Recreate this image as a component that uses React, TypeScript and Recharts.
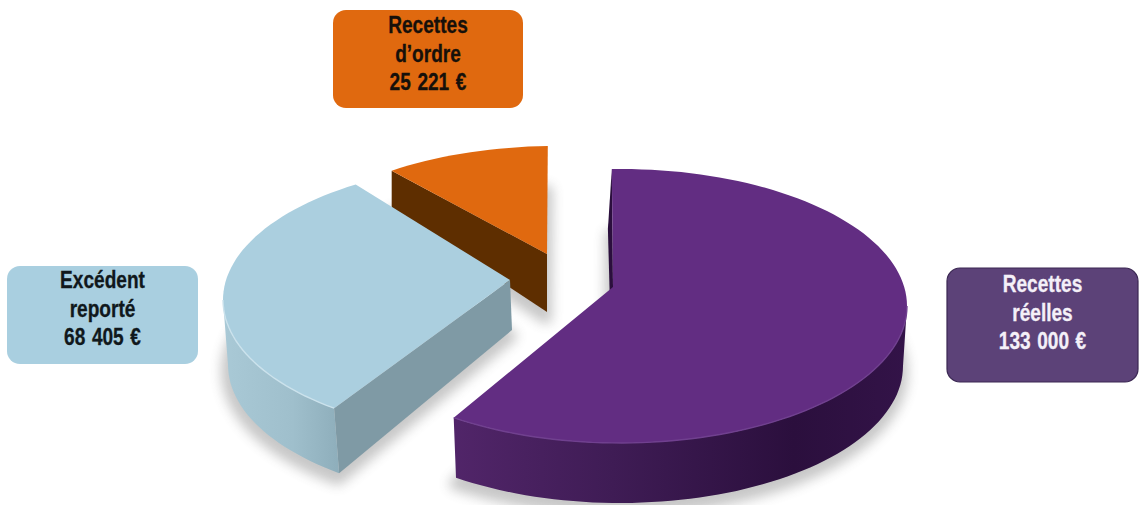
import { Pie, PieChart } from 'recharts'

const categories = ['Recettes d’ordre', 'Recettes réelles', 'Excédent reporté']
const amounts = [25221, 133000, 68405]

const tableData = categories.map((name, i) => ({ name, value: amounts[i] }))
const total = amounts.reduce((a, b) => a + b, 0)

// purple slice's cut edge sits just past twelve o'clock, the orange one leads into it
const FIRST_EDGE = 92
const START_ANGLE = FIRST_EDGE + (amounts[0] / total) * 360

const RX = 287
const RY = 137
const TILT = 0.1

// one entry per slice: ellipse centre, apex, and how the bottom rim is offset
const sliceStyles = [
  {
    cx: 556, cy: 283, apexX: 547, apexY: 254, apexDrop: 58, apexDropX: 0,
    dropX: 0, dropY: 39, bottomRx: RX, faceDx: 0, turn: 0,
    top: '#E0690F', wall: '#5E2E00', face: '#5E2E00', rim: '#E0690F',
  },
  {
    cx: 620, cy: 306, apexX: 613, apexY: 287, apexDrop: 55, apexDropX: -2,
    dropX: 0, dropY: 60, bottomRx: RX - 4, faceDx: -4, turn: 0,
    top: '#622D82', wall: 'url(#purpleWall)', face: '#2B0F3D', rim: '#70408F',
  },
  {
    cx: 510, cy: 300, apexX: 510, apexY: 280, apexDrop: 50, apexDropX: 2,
    dropX: 5, dropY: 65, bottomRx: RX, faceDx: 0, turn: -2.4,
    top: '#ABCFDF', wall: 'url(#blueWall)', face: '#7F9AA5', rim: '#CBE2EC',
  },
]

const boxStyles = [
  { x: 333, y: 10, width: 190, height: 98, baseline: 33, fill: '#E0690F', stroke: 'none', ink: '#16100A' },
  { x: 947, y: 268, width: 191, height: 114, baseline: 292, fill: '#5C4278', stroke: '#3A2752', ink: '#F4F0F8' },
  { x: 7, y: 266, width: 191, height: 98, baseline: 288, fill: '#A9CFE0', stroke: 'none', ink: '#10181C' },
]

const LINE_GAP = 28.6

const rad = (deg: number) => (deg * Math.PI) / 180

// pulls an angle towards the far side so the disc reads as seen in perspective
function warp(deg: number) {
  const c = Math.cos(rad(deg))
  const s = Math.sin(rad(deg))
  const top = Math.atan2(s + TILT, c)
  const bottom = Math.atan2(-TILT * c, 1 + TILT * s)
  let delta = (top - bottom) * (180 / Math.PI) - deg
  delta = ((delta + 180) % 360 + 360) % 360 - 180
  return deg + delta
}

type Slice = (typeof sliceStyles)[number]

const topPoint = (s: Slice, deg: number): [number, number] => [
  s.cx + RX * Math.cos(rad(deg)),
  s.cy - RY * Math.sin(rad(deg)),
]

const bottomPoint = (s: Slice, deg: number): [number, number] => [
  s.cx + s.dropX + s.bottomRx * Math.cos(rad(deg)),
  s.cy + s.dropY - RY * Math.sin(rad(deg)),
]

function arc(point: (deg: number) => [number, number], from: number, to: number) {
  const steps = Math.max(2, Math.ceil(Math.abs(to - from) / 2))
  const out: [number, number][] = []
  for (let i = 0; i <= steps; i++) out.push(point(from + ((to - from) * i) / steps))
  return out
}

const toPath = (pts: [number, number][], close = true) =>
  pts.map((p, i) => `${i ? 'L' : 'M'}${p[0].toFixed(1)} ${p[1].toFixed(1)}`).join('') + (close ? 'Z' : '')

// part of the sweep that runs along the near half of the disc
function frontRange(from: number, to: number) {
  for (const k of [-1, 0, 1]) {
    const hi = Math.min(from, 360 * k)
    const lo = Math.max(to, 360 * k - 180)
    if (hi > lo) return [hi, lo]
  }
  return null
}

const sliceIndex = (props: any) => props.index ?? tableData.findIndex((d) => d.name === props.name)

function ShadowSlice(props: any) {
  const s = sliceStyles[sliceIndex(props)]
  const a0 = warp(props.startAngle) + s.turn
  const a1 = warp(props.endAngle) + s.turn
  const outline = [
    [s.apexX + s.apexDropX, s.apexY + s.apexDrop] as [number, number],
    ...arc((d) => bottomPoint(s, d), a0, a1),
  ]
  return (
    <g opacity={0.32} filter="url(#softShadow)">
      <path
        d={toPath(outline)}
        transform="translate(-1 6)"
        fill="#555"
        stroke="#555"
        strokeWidth={12}
        strokeLinejoin="round"
      />
    </g>
  )
}

function SolidSlice(props: any) {
  const s = sliceStyles[sliceIndex(props)]
  const a0 = warp(props.startAngle) + s.turn
  const a1 = warp(props.endAngle) + s.turn
  const top = topPoint(s, a0)
  const low = bottomPoint(s, a0)
  const front = frontRange(a0, a1)
  return (
    <g>
      {/* cut side along the leading edge */}
      <path
        d={toPath([
          [s.apexX, s.apexY],
          top,
          [low[0] + s.faceDx, low[1]],
          [s.apexX + s.apexDropX, s.apexY + s.apexDrop],
        ])}
        fill={s.face}
      />
      {front && (
        <path
          d={toPath([
            ...arc((d) => topPoint(s, d), front[0], front[1]),
            ...arc((d) => bottomPoint(s, d), front[1], front[0]),
          ])}
          fill={s.wall}
        />
      )}
      <path d={toPath([[s.apexX, s.apexY], ...arc((d) => topPoint(s, d), a0, a1)])} fill={s.top} />
      {front && (
        <path
          d={toPath(arc((d) => topPoint(s, d), front[0], front[1]), false)}
          fill="none"
          stroke={s.rim}
          strokeWidth={1.4}
        />
      )}
    </g>
  )
}

const formatEuro = (v: number) => `${String(v).replace(/\B(?=(\d{3})+$)/g, ' ')} €`

function BoxLabel(props: any) {
  const i = props.index ?? 0
  const box = boxStyles[i]
  const lines = [...categories[i].split(' '), formatEuro(amounts[i])]
  return (
    <g>
      <rect
        x={box.x}
        y={box.y}
        width={box.width}
        height={box.height}
        rx={13}
        fill={box.fill}
        stroke={box.stroke}
        strokeWidth={1.2}
      />
      {lines.map((line, n) => (
        // no condensed face is available, so the bold sans is squeezed horizontally
        <text
          key={line}
          transform={`translate(${box.x + box.width / 2} ${box.baseline + n * LINE_GAP}) scale(0.83 1)`}
          textAnchor="middle"
          fontFamily="'Liberation Sans', sans-serif"
          fontWeight={700}
          fontSize={23}
          wordSpacing={1.5}
          fill={box.ink}
          stroke={box.ink}
          strokeWidth={0.3}
        >
          {line}
        </text>
      ))}
    </g>
  )
}

export default function App() {
  return (
    <div style={{ position: 'absolute', left: 0, top: 0, width: 1139, height: 505, background: '#fff' }}>
      <PieChart width={1139} height={505} margin={{ top: 0, right: 0, bottom: 0, left: 0 }}>
        <defs>
          <linearGradient id="purpleWall" x1="0" y1="0" x2="1" y2="0">
            <stop offset="0" stopColor="#512569" />
            <stop offset="0.35" stopColor="#3F1C55" />
            <stop offset="0.75" stopColor="#2B0F3D" />
            <stop offset="1" stopColor="#331348" />
          </linearGradient>
          <linearGradient id="blueWall" x1="0" y1="0" x2="1" y2="0">
            <stop offset="0" stopColor="#A9C9D6" />
            <stop offset="0.6" stopColor="#9FBFCC" />
            <stop offset="1" stopColor="#8EAEBB" />
          </linearGradient>
          <filter id="softShadow" x="-20%" y="-20%" width="140%" height="140%">
            <feGaussianBlur stdDeviation="6" />
          </filter>
        </defs>
        <Pie
          data={tableData}
          dataKey="value"
          cx={569}
          cy={290}
          outerRadius={RX}
          startAngle={START_ANGLE}
          endAngle={START_ANGLE - 360}
          stroke="none"
          shape={ShadowSlice}
          isAnimationActive={false}
        />
        <Pie
          data={tableData}
          dataKey="value"
          cx={569}
          cy={290}
          outerRadius={RX}
          startAngle={START_ANGLE}
          endAngle={START_ANGLE - 360}
          stroke="none"
          shape={SolidSlice}
          label={BoxLabel}
          labelLine={false}
          isAnimationActive={false}
        />
      </PieChart>
    </div>
  )
}
